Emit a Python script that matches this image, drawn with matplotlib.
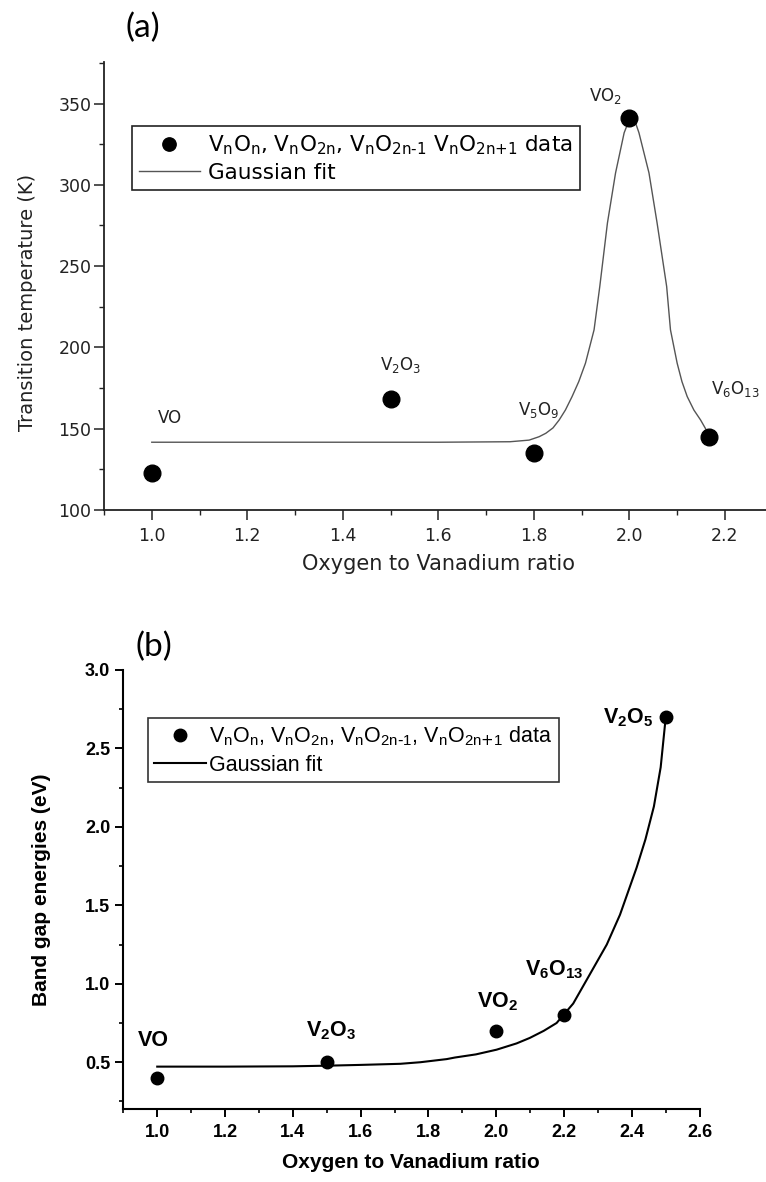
import matplotlib.pyplot as plt
from matplotlib.ticker import MultipleLocator

plt.rcParams['mathtext.default'] = 'regular'

# (a) metal-insulator transition temperature vs O/V ratio
ratio_a = [1.0, 1.5, 1.8, 2.0, 2.167]
temp_a = [123, 168, 135, 341, 145]
names_a = ['VO', 'V$_2$O$_3$', 'V$_5$O$_9$', 'VO$_2$', 'V$_6$O$_{13}$']

# Gaussian fit curve
fit_a_x = [1.0, 1.3, 1.6, 1.75, 1.79, 1.811, 1.825, 1.84, 1.853, 1.866, 1.88,
           1.894, 1.908, 1.926, 1.938, 1.954, 1.971, 1.989, 1.997, 2.005,
           2.013, 2.020, 2.041, 2.058, 2.078, 2.086, 2.100, 2.110, 2.121,
           2.135, 2.149, 2.163]
fit_a_y = [141.7, 141.7, 141.7, 142.0, 143.0, 145.1, 147.2, 150.5, 155.4,
           161.5, 169.8, 179.0, 190.3, 210.8, 237.5, 276.5, 307.3, 332.0,
           338.0, 340.0, 338.0, 332.0, 307.3, 276.5, 237.5, 210.8, 190.3,
           179.0, 169.8, 161.5, 155.4, 148.2]

# (b) band gap energies vs O/V ratio
ratio_b = [1.0, 1.5, 2.0, 2.2, 2.5]
gap_b = [0.40, 0.50, 0.70, 0.80, 2.70]
names_b = ['VO', 'V$_2$O$_3$', 'VO$_2$', 'V$_6$O$_{13}$', 'V$_2$O$_5$']

fit_b_x = [1.0, 1.2, 1.4, 1.5, 1.6, 1.717, 1.776, 1.854, 1.878, 1.94, 2.001,
           2.06, 2.099, 2.14, 2.178, 2.227, 2.276, 2.326, 2.365, 2.414, 2.44,
           2.465, 2.485, 2.50]
fit_b_y = [0.472, 0.472, 0.474, 0.478, 0.483, 0.49, 0.50, 0.52, 0.53, 0.55,
           0.58, 0.62, 0.655, 0.70, 0.75, 0.874, 1.06, 1.25, 1.44, 1.74, 1.92,
           2.13, 2.38, 2.70]

# label anchors (left edge, baseline) in data units
lab_a = [(1.012, 153.8), (1.478, 186.2), (1.766, 158.5), (1.915, 351.4), (2.171, 171.2)]
lab_b = [(0.944, 0.605), (1.440, 0.663), (1.942, 0.85), (2.085, 1.052), (2.314, 2.66)]

fig = plt.figure(figsize=(7.66, 11.82), dpi=100)

# ---------- panel (a) ----------
ink = '#222222'
ax1 = fig.add_axes([0.1358, 0.5685, 0.8642, 0.379])
ax1.plot(fit_a_x, fit_a_y, color='#555555', lw=1.0, label='Gaussian fit', zorder=2)
ax1.plot(ratio_a, temp_a, 'o', color='black', ms=12, zorder=3,
         label=r'V$_n$O$_n$, V$_n$O$_{2n}$, V$_n$O$_{2n\text{-}1}$ V$_n$O$_{2n\text{+}1}$ data')
for name, (lx, ly) in zip(names_a, lab_a):
    ax1.text(lx, ly, name, fontsize=12, family='DejaVu Sans', color=ink,
             ha='left', va='baseline')

ax1.set_xlim(0.9, 2.286)
ax1.set_ylim(100, 375.5)
ax1.xaxis.set_major_locator(MultipleLocator(0.2))
ax1.xaxis.set_minor_locator(MultipleLocator(0.1))
ax1.yaxis.set_major_locator(MultipleLocator(50))
ax1.yaxis.set_minor_locator(MultipleLocator(25))
for s in ['top', 'right']:
    ax1.spines[s].set_visible(False)
for s in ['left', 'bottom']:
    ax1.spines[s].set_linewidth(1.3)
    ax1.spines[s].set_color(ink)
ax1.tick_params(which='major', direction='out', length=7, width=1.1,
                labelsize=12.5, colors=ink)
ax1.tick_params(which='minor', direction='out', length=3.5, width=1.0, colors=ink)
ax1.tick_params(axis='y', which='major', pad=2)
ax1.tick_params(axis='x', which='major', pad=5)
for t in ax1.get_xticklabels() + ax1.get_yticklabels():
    t.set_family('DejaVu Sans')

ax1.set_xlabel('Oxygen to Vanadium ratio', fontsize=15, family='DejaVu Sans', color=ink)
ax1.set_ylabel('Transition temperature (K)', fontsize=14, family='DejaVu Sans', color=ink)
ax1.xaxis.set_label_coords(0.505, -0.098)
ax1.xaxis.label.set_va('top')
ax1.yaxis.set_label_coords(-0.101, 0.464)

h, l = ax1.get_legend_handles_labels()
leg1 = ax1.legend(h[::-1], l[::-1], loc='upper left', bbox_to_anchor=(0.042, 0.857),
                  borderaxespad=0, fancybox=False, framealpha=1, edgecolor='#222222',
                  prop={'family': 'DejaVu Sans', 'size': 15.5}, handlelength=2.8,
                  handletextpad=0.4, labelspacing=0.25, borderpad=0.35,
                  markerscale=0.8)
leg1.get_frame().set_linewidth(1.2)

fig.text(143 / 766, 1 - 28 / 1182, '(a)', fontsize=24, family='Lato',
         ha='center', va='center')

# ---------- panel (b) ----------
ax2 = fig.add_axes([0.161, 0.0615, 0.7524, 0.3717])
ax2.plot(fit_b_x, fit_b_y, color='black', lw=1.5, label='Gaussian fit', zorder=2)
ax2.plot(ratio_b, gap_b, 'o', color='black', ms=9, zorder=3,
         label=r'V$_n$O$_n$, V$_n$O$_{2n}$, V$_n$O$_{2n\text{-}1}$, V$_n$O$_{2n\text{+}1}$ data')
for name, (lx, ly) in zip(names_b, lab_b):
    ax2.text(lx, ly, name, fontsize=15.5, family='Liberation Sans', weight='bold',
             ha='left', va='baseline')

ax2.set_xlim(0.9, 2.6)
ax2.set_ylim(0.2, 3.0)
ax2.xaxis.set_major_locator(MultipleLocator(0.2))
ax2.xaxis.set_minor_locator(MultipleLocator(0.1))
ax2.yaxis.set_major_locator(MultipleLocator(0.5))
ax2.yaxis.set_minor_locator(MultipleLocator(0.25))
for s in ['top', 'right']:
    ax2.spines[s].set_visible(False)
for s in ['left', 'bottom']:
    ax2.spines[s].set_linewidth(1.5)
ax2.tick_params(which='major', direction='out', length=5.5, width=1.4, labelsize=13)
ax2.tick_params(which='minor', direction='out', length=3, width=1.2)
ax2.tick_params(axis='y', which='major', pad=4)
ax2.tick_params(axis='x', which='major', pad=5)
for t in ax2.get_xticklabels() + ax2.get_yticklabels():
    t.set_family('Liberation Sans')
    t.set_weight('bold')

ax2.set_xlabel('Oxygen to Vanadium ratio', fontsize=15, family='Liberation Sans', weight='bold')
ax2.set_ylabel('Band gap energies (eV)', fontsize=15, family='Liberation Sans', weight='bold')
ax2.xaxis.set_label_coords(0.499, -0.0995)
ax2.xaxis.label.set_va('top')
ax2.yaxis.set_label_coords(-0.125, 0.5)

h, l = ax2.get_legend_handles_labels()
leg2 = ax2.legend(h[::-1], l[::-1], loc='upper left', bbox_to_anchor=(0.042, 0.890),
                  borderaxespad=0, fancybox=False, framealpha=1, edgecolor='#333333',
                  prop={'family': 'Liberation Sans', 'size': 15.5}, handlelength=2.4,
                  handletextpad=0.15, labelspacing=0.3, borderpad=0.3,
                  markerscale=1.0)
leg2.get_frame().set_linewidth(1.2)

fig.text(154 / 766, 1 - 647 / 1182, '(b)', fontsize=24, family='Lato',
         ha='center', va='center')

fig.savefig('out.png', dpi=100)
